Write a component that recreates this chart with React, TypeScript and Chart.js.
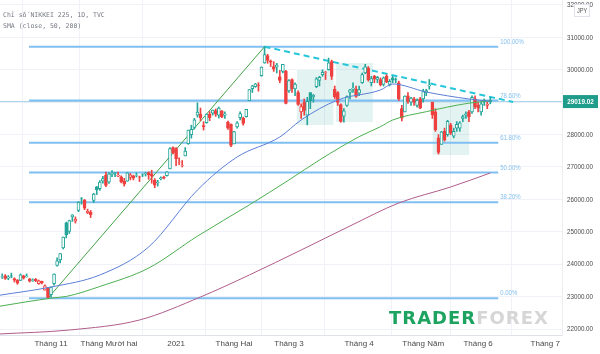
import React, { useEffect, useRef } from 'react';
import { Chart, registerables } from 'chart.js';

Chart.register(...registerables);

// ---------- categories (trading days) ----------
const dates: string[] = [
  '2020-10-09','2020-10-12','2020-10-13','2020-10-14','2020-10-15','2020-10-16','2020-10-19','2020-10-20','2020-10-21','2020-10-22','2020-10-23','2020-10-26','2020-10-27','2020-10-28','2020-10-29','2020-10-30',
  '2020-11-02','2020-11-04','2020-11-05','2020-11-06','2020-11-09','2020-11-10','2020-11-11','2020-11-12','2020-11-13','2020-11-16','2020-11-17','2020-11-18','2020-11-19','2020-11-20','2020-11-24','2020-11-25','2020-11-26','2020-11-27','2020-11-30',
  '2020-12-01','2020-12-02','2020-12-03','2020-12-04','2020-12-07','2020-12-08','2020-12-09','2020-12-10','2020-12-11','2020-12-14','2020-12-15','2020-12-16','2020-12-17','2020-12-18','2020-12-21','2020-12-22','2020-12-23','2020-12-24','2020-12-25','2020-12-28','2020-12-29','2020-12-30',
  '2021-01-04','2021-01-05','2021-01-06','2021-01-07','2021-01-08','2021-01-12','2021-01-13','2021-01-14','2021-01-15','2021-01-18','2021-01-19','2021-01-20','2021-01-21','2021-01-22','2021-01-25','2021-01-26','2021-01-27','2021-01-28','2021-01-29',
  '2021-02-01','2021-02-02','2021-02-03','2021-02-04','2021-02-05','2021-02-08','2021-02-09','2021-02-10','2021-02-12','2021-02-15','2021-02-16','2021-02-17','2021-02-18','2021-02-19','2021-02-22','2021-02-24','2021-02-25','2021-02-26',
  '2021-03-01','2021-03-02','2021-03-03','2021-03-04','2021-03-05','2021-03-08','2021-03-09','2021-03-10','2021-03-11','2021-03-12','2021-03-15','2021-03-16','2021-03-17','2021-03-18','2021-03-19','2021-03-22','2021-03-23','2021-03-24','2021-03-25','2021-03-26','2021-03-29','2021-03-30','2021-03-31',
  '2021-04-01','2021-04-02','2021-04-05','2021-04-06','2021-04-07','2021-04-08','2021-04-09','2021-04-12','2021-04-13','2021-04-14','2021-04-15','2021-04-16','2021-04-19','2021-04-20','2021-04-21','2021-04-22','2021-04-23','2021-04-26','2021-04-27','2021-04-28','2021-04-30',
  '2021-05-06','2021-05-07','2021-05-10','2021-05-11','2021-05-12','2021-05-13','2021-05-14','2021-05-17','2021-05-18','2021-05-19','2021-05-20','2021-05-21','2021-05-24','2021-05-25','2021-05-26','2021-05-27','2021-05-28','2021-05-31',
  '2021-06-01','2021-06-02','2021-06-03','2021-06-04','2021-06-07',
];
const futureDates: string[] = [
  '2021-06-08','2021-06-09','2021-06-10','2021-06-11','2021-06-14','2021-06-15','2021-06-16','2021-06-17','2021-06-18','2021-06-21','2021-06-22','2021-06-23','2021-06-24','2021-06-25','2021-06-28','2021-06-29','2021-06-30',
  '2021-07-01','2021-07-02','2021-07-05','2021-07-06','2021-07-07',
];

// ---------- OHLC ----------
const opens: number[] = [
  23600,23640,23570,23640,23560,23500,23500,23640,23610,23550,23500,23530,23400,23470,23200,23260,
  23060,23400,23960,24130,24500,25280,25010,25460,25330,25660,26020,25980,25590,25600,25970,26390,26330,26560,26750,
  26530,26770,26830,26720,26700,26560,26560,26680,26730,26730,26700,26760,26790,26830,26780,26600,26520,26640,26690,26730,26940,27600,
  27570,27150,27050,27340,27720,28000,28220,28600,28630,28280,28370,28630,28660,28740,28600,28730,28600,28390,28320,
  27710,28240,28520,28500,28550,29050,29420,29480,29530,29820,30210,30440,30280,30100,30080,29780,29950,29950,
  29350,29700,29410,29300,28700,29000,28600,29300,29170,29480,29670,29850,29900,30000,30250,29400,29300,28930,28570,28900,29300,29400,29400,
  29280,29600,29900,30050,29600,29800,29700,29700,29550,29800,29550,29750,29700,29600,28800,28700,29200,29000,29100,28900,29100,
  29100,29300,29500,29000,28700,27900,27700,28100,28000,28300,27950,28200,28200,28500,28600,28700,28700,29100,
  28900,28700,29000,28900,29050,
];
const highs: number[] = [
  23700,23680,23650,23725,23580,23530,23700,23660,23700,23560,23550,23560,23510,23480,23360,23290,
  23300,23700,24200,24330,24840,25300,25360,25530,25460,25930,26060,26000,25700,25660,26190,26400,26580,26710,26840,
  26830,26890,26830,26840,26730,26650,26830,26800,26750,26820,26720,26790,26840,26850,26900,26640,26590,26700,26720,26860,27600,27620,
  27600,27280,27200,27600,28140,28290,28500,28980,28820,28400,28640,28710,28760,28790,28850,28740,28700,28420,28330,
  28100,28400,28700,28540,28780,29390,29520,29580,29600,30090,30714,30480,30300,30250,30200,29980,30170,29980,
  29700,29720,29600,29350,28950,29100,29150,29300,29240,29760,29800,30000,29950,30360,30300,29500,29330,28950,28800,29200,29400,29600,29500,
  29500,29900,30170,30100,29800,29830,29800,29750,29780,29850,29700,29800,29750,29650,28900,29200,29300,29150,29150,29100,29150,
  29400,29400,29700,29000,28800,28000,28100,28200,28440,28350,28200,28400,28400,28600,28700,28750,29200,29200,
  29000,29000,29100,29000,29150,
];
const lows: number[] = [
  23560,23530,23520,23580,23450,23380,23490,23540,23600,23450,23470,23460,23380,23390,23200,22948,
  22980,23350,23940,24040,24470,24810,24950,25320,25270,25620,25850,25680,25560,25440,25900,26150,26280,26500,26390,
  26490,26700,26700,26700,26510,26410,26560,26600,26600,26690,26550,26700,26720,26620,26500,26360,26410,26600,26630,26720,26940,27400,
  27040,27070,27000,27340,27700,27890,28170,28540,28430,28140,28350,28430,28600,28560,28510,28520,28500,28160,27630,
  27710,28200,28450,28290,28540,29050,29300,29460,29340,29800,30200,30200,30100,29950,29900,29600,29900,28950,
  29300,29300,29200,28900,28500,28600,28300,28800,29000,29450,29500,29800,29700,29990,29700,29100,28900,28380,28380,28870,29100,29300,29150,
  29200,29580,29880,29650,29500,29600,29600,29500,29500,29600,29500,29600,29600,29050,28420,28700,28960,28900,28900,28850,28800,
  29000,29200,29400,28500,28100,27400,27700,27800,27950,28000,27900,28100,28100,28400,28500,28400,28650,28800,
  28700,28600,28900,28800,28950,
];
const closes: number[] = [
  23620,23559,23602,23627,23507,23411,23671,23567,23639,23474,23517,23494,23486,23419,23332,22977,
  23295,23695,24105,24325,24840,24906,25350,25521,25386,25907,26015,25728,25634,25527,26166,26297,26537,26645,26434,
  26788,26801,26809,26751,26547,26467,26818,26756,26653,26732,26688,26757,26807,26763,26714,26436,26525,26668,26657,26854,27568,27444,
  27258,27159,27056,27490,28139,28164,28457,28698,28519,28242,28633,28523,28757,28631,28822,28546,28635,28197,27663,
  28091,28362,28646,28342,28779,29389,29506,29563,29520,30084,30468,30292,30236,30018,30156,29672,30168,28966,
  29664,29408,29559,28930,28864,28743,29028,29037,29212,29718,29767,29921,29914,30217,29792,29174,28996,28406,28730,29177,29385,29433,29179,
  29389,29854,30089,29697,29731,29709,29768,29539,29752,29621,29643,29683,29685,29100,28509,29188,29021,29126,28992,29054,28813,
  29331,29358,29518,28609,28148,27448,28084,27825,28407,28044,28098,28318,28365,28554,28642,28549,29149,28860,
  28814,28946,29058,28942,29019.02,
];

// ---------- moving averages (x = trading-day index) ----------
const smaFastX: number[] = [-1, 16, 32, 48, 64, 77, 91, 98, 110, 124, 128, 139, 153, 160];
const smaFastY: number[] = [23040, 23296, 23667, 24531, 26290, 27309, 27926, 28451, 29068, 29377, 29562, 29315, 29099, 29030];
const smaMidX: number[] = [-1, 16, 21, 32, 48, 64, 81, 94, 104, 117, 124, 128, 139, 153, 160];
const smaMidY: number[] = [22700, 22954, 23005, 23312, 23880, 24866, 25830, 26600, 27216, 27935, 28244, 28450, 28707, 28970, 29040];
const smaSlowX: number[] = [-1, 22, 45, 65, 81, 98, 114, 130, 147, 160];
const smaSlowY: number[] = [21846, 21969, 22278, 22988, 23667, 24438, 25179, 25889, 26383, 26815];

// ---------- Fibonacci retracement ----------
const fibLabels: string[] = ['0.00%', '38.20%', '50.00%', '61.80%', '78.60%', '100.00%'];
const fibValues: number[] = [22948, 25915, 26831, 27747, 29052, 30714];
const fibStart = 8.8;
const fibEnd = 162.6;

// ---------- trend lines ----------
const upTrendX: number[] = [15, 86];
const upTrendY: number[] = [22948, 30714];
const downTrendX: number[] = [86, 167.5];
const downTrendY: number[] = [30714, 29006];

// ---------- rectangles ----------
const boxX0: number[] = [96.6, 109.4, 141.1];
const boxX1: number[] = [108.6, 121.5, 153.1];
const boxTop: number[] = [29994, 30210, 29037];
const boxBottom: number[] = [28296, 28389, 27370];

// ---------- axes ----------
const yTicks: number[] = [22000, 23000, 24000, 25000, 26000, 27000, 28000, 29000, 30000, 31000, 32000];
const monthKeys: string[] = ['2020-11', '2020-12', '2021-01', '2021-02', '2021-03', '2021-04', '2021-05', '2021-06', '2021-07'];
const monthLabels: string[] = ['Tháng 11', 'Tháng Mười hai', '2021', 'Tháng Hai', 'Tháng 3', 'Tháng 4', 'Tháng Năm', 'Tháng 6', 'Tháng 7'];
const lastPrice = 29019.02;
const titleLines: string[] = ['Chỉ số NIKKEI 225, 1D, TVC', 'SMA (close, 50, 200)'];

const X_MIN = -0.72;
const X_MAX = 183.5;
const Y_MIN = 21815;
const Y_MAX = 32154;

const UP = '#26a69a';
const DOWN = '#ef4040';
const SANS = "'Liberation Sans', Arial, sans-serif";

function condensed(ctx: CanvasRenderingContext2D, text: string, x: number, y: number, sx: number, align: CanvasTextAlign) {
  ctx.save();
  ctx.translate(x, y);
  ctx.scale(sx, 1);
  ctx.textAlign = align;
  ctx.fillText(text, 0, 0);
  ctx.restore();
}

export default function App() {
  const ref = useRef<HTMLCanvasElement | null>(null);

  useEffect(() => {
    const canvas = ref.current;
    if (!canvas) return;
    const n = Math.min(opens.length, highs.length, lows.length, closes.length, dates.length);
    const idx = Array.from({ length: n }, (_, i) => i);
    const col = idx.map((i) => (closes[i] >= (i > 0 ? closes[i - 1] : opens[i]) ? UP : DOWN));
    const hollow = idx.map((i) => closes[i] >= opens[i]);

    const allDates = dates.concat(futureDates);
    const tickIdx: number[] = [];
    const tickText: Record<number, string> = {};
    allDates.forEach((d, i) => {
      const key = d.slice(0, 7);
      const k = monthKeys.indexOf(key);
      if (k >= 0 && (i === 0 || allDates[i - 1].slice(0, 7) !== key)) {
        tickIdx.push(i);
        tickText[i] = monthLabels[k];
      }
    });

    const line = (xs: number[], ys: number[], color: string, width: number, extra: any = {}) => ({
      type: 'line',
      data: xs.map((x, i) => ({ x, y: ys[i] })),
      borderColor: color,
      borderWidth: width,
      pointRadius: 0,
      fill: false,
      ...extra,
    });

    const datasets: any[] = [
      line(smaFastX, smaFastY, '#5b7fd6', 1, { cubicInterpolationMode: 'monotone', order: 0 }),
      line(smaMidX, smaMidY, '#4caf50', 1, { cubicInterpolationMode: 'monotone', order: 0 }),
      line(smaSlowX, smaSlowY, '#b05c8a', 1, { cubicInterpolationMode: 'monotone', order: 0 }),
      {
        type: 'bar',
        data: idx.map((i) => ({ x: i, y: [opens[i], closes[i]] })),
        backgroundColor: idx.map((i) => (hollow[i] ? '#ffffff' : col[i])),
        borderColor: col,
        borderWidth: 1,
        borderSkipped: false,
        barThickness: 3,
        grouped: false,
        order: 1,
      },
      {
        type: 'bar',
        data: idx.map((i) => ({ x: i, y: [lows[i], highs[i]] })),
        backgroundColor: col,
        borderWidth: 0,
        barThickness: 1,
        grouped: false,
        order: 2,
      },
      line(upTrendX, upTrendY, '#43a047', 1, { order: 3 }),
      line(downTrendX, downTrendY, '#26c6da', 2, { borderDash: [6, 4], order: 3 }),
      line([X_MIN, X_MAX], [lastPrice, lastPrice], '#a9d3ea', 1, { order: 5 }),
      ...fibValues.map((v) => line([fibStart, fibEnd], [v, v], '#7fbff2', 2, { order: 4 })),
    ];

    const overlay = {
      id: 'overlay',
      beforeDatasetsDraw(chart: any) {
        const { ctx, chartArea: a, scales } = chart;
        const x = scales.x, y = scales.y;
        ctx.save();
        ctx.beginPath();
        ctx.rect(a.left, a.top, a.right - a.left, a.bottom - a.top);
        ctx.clip();
        ctx.fillStyle = 'rgba(38,166,154,0.13)';
        for (let k = 0; k < boxX0.length; k++) {
          const x0 = x.getPixelForValue(boxX0[k]);
          const x1 = x.getPixelForValue(boxX1[k]);
          const y0 = y.getPixelForValue(boxTop[k]);
          const y1 = y.getPixelForValue(boxBottom[k]);
          ctx.fillRect(x0, y0, x1 - x0, y1 - y0);
        }
        ctx.restore();
      },
      afterDraw(chart: any) {
        const { ctx, chartArea: a, scales } = chart;
        const x = scales.x, y = scales.y;
        ctx.save();
        ctx.textBaseline = 'middle';
        // title
        ctx.font = "6.5px 'DejaVu Sans Mono', monospace";
        ctx.fillStyle = '#787b86';
        ctx.textAlign = 'left';
        ctx.fillText(titleLines[0], 3, 15);
        ctx.fillText(titleLines[1], 3, 26);
        // y-axis labels (condensed)
        ctx.font = `8px ${SANS}`;
        ctx.fillStyle = '#4a4a4a';
        yTicks.forEach((v) => {
          condensed(ctx, v.toFixed(2), a.right + 5, y.getPixelForValue(v), 0.78, 'left');
        });
        // fib labels
        ctx.font = `7.5px ${SANS}`;
        ctx.fillStyle = '#86c1ef';
        const lx = x.getPixelForValue(fibEnd) + 2;
        fibValues.forEach((v, k) => {
          condensed(ctx, fibLabels[k], lx, y.getPixelForValue(v) - 5, 0.8, 'left');
        });
        // price badge
        const py = y.getPixelForValue(lastPrice);
        ctx.fillStyle = '#1f9c8a';
        ctx.fillRect(a.right + 1, py - 6.5, 35, 13);
        ctx.fillStyle = '#ffffff';
        ctx.font = `bold 8px ${SANS}`;
        condensed(ctx, lastPrice.toFixed(2), a.right + 18.5, py + 0.5, 0.8, 'center');
        // JPY box
        ctx.fillStyle = '#ffffff';
        ctx.fillRect(574, 4, 16, 13);
        ctx.strokeStyle = '#e0e3eb';
        ctx.lineWidth = 1;
        ctx.strokeRect(574.5, 4.5, 15, 12);
        ctx.fillStyle = '#555';
        ctx.font = `6.5px ${SANS}`;
        condensed(ctx, 'JPY', 582, 11, 0.85, 'center');
        // logo
        ctx.textAlign = 'left';
        ctx.textBaseline = 'alphabetic';
        ctx.font = "bold 18px 'DejaVu Sans', sans-serif";
        (ctx as any).letterSpacing = '1px';
        ctx.fillStyle = '#1ba35f';
        ctx.fillText('TRADER', 389, 324);
        const w = ctx.measureText('TRADER').width;
        ctx.fillStyle = '#d6d6d6';
        ctx.fillText('FOREX', 389 + w, 324);
        ctx.restore();
      },
    };

    const chart = new Chart(canvas, {
      type: 'bar',
      data: { datasets },
      options: {
        responsive: false,
        animation: false,
        devicePixelRatio: 1,
        layout: { padding: 0 },
        plugins: { legend: { display: false }, tooltip: { enabled: false } },
        scales: {
          x: {
            type: 'linear',
            min: X_MIN,
            max: X_MAX,
            offset: false,
            grid: { color: '#f0f2f7', drawTicks: false },
            border: { color: '#dfe2e8' },
            afterBuildTicks: (s: any) => {
              s.ticks = tickIdx.map((v) => ({ value: v }));
            },
            afterFit: (s: any) => {
              s.height = 19;
            },
            ticks: {
              autoSkip: false,
              maxRotation: 0,
              minRotation: 0,
              padding: 4,
              color: '#4a4a4a',
              font: { family: SANS, size: 8 },
              callback: (v: any) => tickText[v as number] ?? '',
            },
          },
          y: {
            type: 'linear',
            position: 'right',
            min: Y_MIN,
            max: Y_MAX,
            grid: { color: '#f0f2f7', drawTicks: false },
            border: { color: '#eceef2' },
            afterBuildTicks: (s: any) => {
              s.ticks = yTicks.map((v) => ({ value: v }));
            },
            afterFit: (s: any) => {
              s.width = 38;
            },
            ticks: { display: false },
          },
        },
      } as any,
      plugins: [overlay],
    } as any);

    return () => chart.destroy();
  }, []);

  return (
    <div style={{ position: 'fixed', left: 0, top: 0, width: 600, height: 354, background: '#ffffff' }}>
      <canvas ref={ref} width={600} height={354} style={{ width: 600, height: 354, display: 'block' }} />
    </div>
  );
}
